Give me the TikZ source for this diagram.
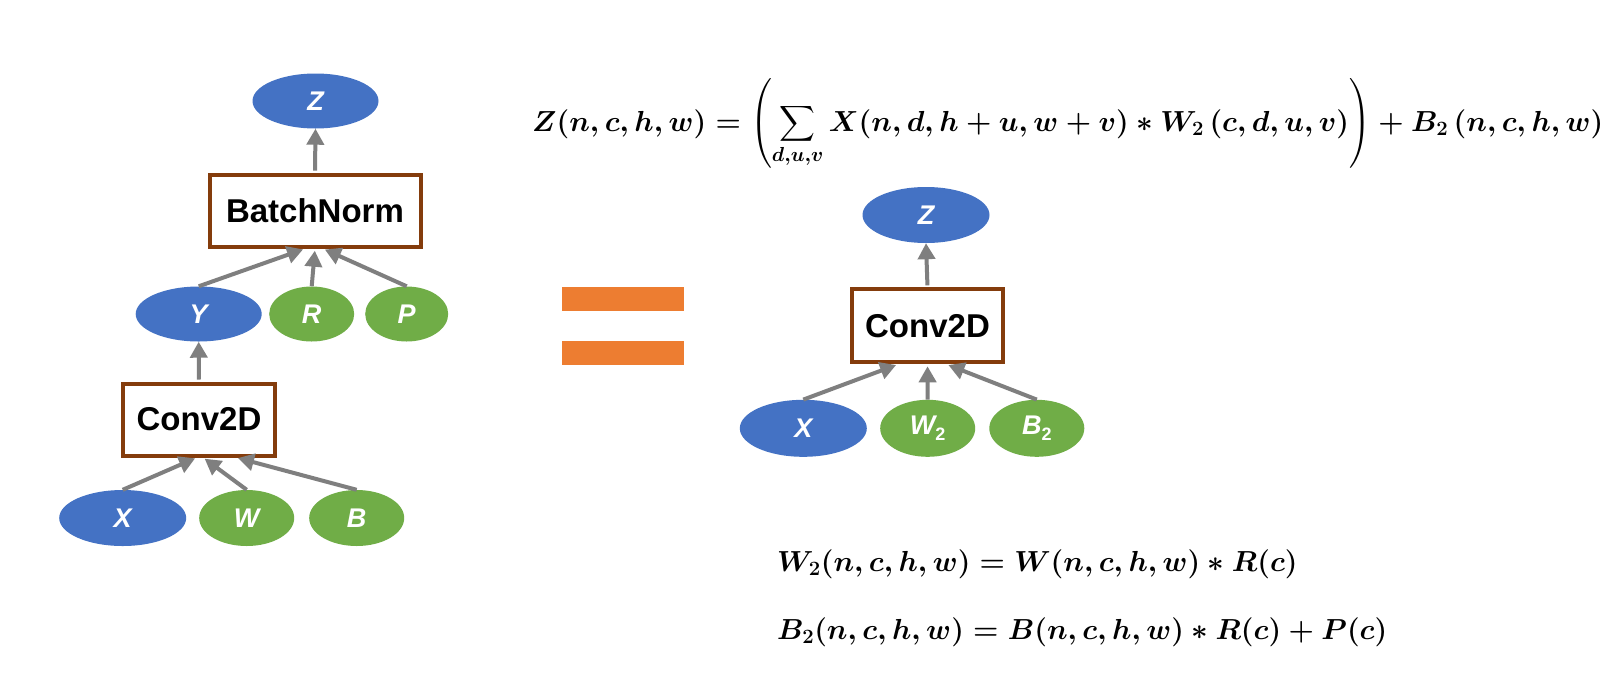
\RequirePackage{fix-cm}
\documentclass[tikz,border=0pt]{standalone}
\usepackage[no-math]{fontspec}
\usepackage{amsmath}
\usepackage{graphicx}
\newfontfamily\arialf{Liberation Sans}
\usetikzlibrary{shapes.geometric,arrows.meta,calc}
\definecolor{nblue}{HTML}{4472C4}
\definecolor{ngreen}{HTML}{70AD47}
\definecolor{norange}{HTML}{ED7D31}
\definecolor{nbrown}{HTML}{843C0C}
\definecolor{ngray}{HTML}{7F7F7F}
\newsavebox{\fzbox}
\newsavebox{\fwbox}
\newsavebox{\fbbox}
\begin{document}
\sbox{\fzbox}{\fontsize{29}{35}\selectfont\boldmath$Z(n,c,h,w)=\left(\displaystyle\sum\limits_{d,u,v}X(n,d,h+u,w+v)\ast W_2\,(c,d,u,v)\right)+B_2\,(n,c,h,w)$}%
\sbox{\fwbox}{\fontsize{29}{35}\selectfont\boldmath$W_2(n,c,h,w)=W(n,c,h,w)\ast R(c)$}%
\sbox{\fbbox}{\fontsize{29}{35}\selectfont\boldmath$B_2(n,c,h,w)=B(n,c,h,w)\ast R(c)+P(c)$}%
\begin{tikzpicture}[x=1pt,y=-1pt,
  tensor/.style={ellipse, inner sep=0pt, text=white, font=\arialf\bfseries\itshape\fontsize{27}{27}\selectfont},
  bluet/.style={tensor, fill=nblue, minimum width=126pt, minimum height=55pt},
  greent/.style={tensor, fill=ngreen, minimum height=55pt},
  opbox/.style={draw=nbrown, line width=4pt, fill=white, rectangle, inner sep=0pt, font=\arialf\bfseries\fontsize{33}{33}\selectfont},
  flow/.style={draw=ngray, line width=4pt, -{Triangle[length=16pt,width=17pt]}},
  intobox/.style={flow, shorten >=2pt},
  outofbox/.style={flow, shorten <=2pt},
  formula/.style={anchor=base west, inner sep=0pt},
  eqbar/.style={fill=norange}
]
\useasboundingbox[fill=white] (0,0) rectangle (1600,694);

% ---------- left graph ----------
\node[bluet] (zL) at (315.5,101) {Z};
\node[opbox, minimum width=211pt, minimum height=72pt] (bn) at (315,210.7) {BatchNorm};
\node[bluet] (yL) at (198.7,314) {Y};
\node[greent, minimum width=85pt] (rL) at (311.7,314) {R};
\node[greent, minimum width=83pt] (pL) at (406.7,314) {P};
\node[opbox, minimum width=152pt, minimum height=72pt] (cvL) at (199,419.5) {Conv2D};
\node[bluet, minimum width=127pt, minimum height=56pt] (xL) at (122.7,518) {X};
\node[greent, minimum width=95pt, minimum height=56pt] (wL) at (246.7,518) {W};
\node[greent, minimum width=95pt, minimum height=56pt] (bL) at (356.7,518) {B};

\draw[outofbox] (bn.north) -- (zL.south);
\draw[intobox] (yL.north) -- ([xshift=-10pt]bn.south);
\draw[intobox] (rL.north) -- ([xshift=0pt]bn.south);
\draw[intobox] (pL.north) -- ([xshift=8pt]bn.south);
\draw[outofbox] (cvL.north) -- (yL.south);
\draw[intobox] (xL.north) -- ([xshift=-2pt]cvL.south);
\draw[intobox] (wL.north) -- ([xshift=4pt]cvL.south);
\draw[intobox] (bL.north) -- ([xshift=37pt]cvL.south);

% ---------- equals sign ----------
\fill[eqbar] (562,287) rectangle (684,311);
\fill[eqbar] (562,341) rectangle (684,365);

% ---------- right graph ----------
\node[bluet, minimum width=127pt, minimum height=56pt] (zR) at (926,215) {Z};
\node[opbox, minimum width=151pt, minimum height=73pt] (cvR) at (927.5,325.8) {Conv2D};
\node[bluet, minimum width=127pt, minimum height=57pt] (xR) at (803.3,428.3) {X};
\node[greent, minimum width=95pt, minimum height=57pt] (w2R) at (927.7,428.3) {W{\fontsize{18}{18}\selectfont\upshape\raisebox{-6pt}{2}}};
\node[greent, minimum width=95pt, minimum height=57pt] (b2R) at (1036.8,428.3) {B{\fontsize{18}{18}\selectfont\upshape\raisebox{-6pt}{2}}};

\draw[outofbox] (cvR.north) -- (zR.south);
\draw[intobox] (xR.north) -- ([xshift=-29.5pt]cvR.south);
\draw[intobox] (w2R.north) -- ([xshift=0pt]cvR.south);
\draw[intobox] (b2R.north) -- ([xshift=19pt]cvR.south);

% ---------- formulas ----------
\node[formula] (ftop) at (532,131) {\usebox{\fzbox}};
\node[formula] (fw) at (777,571) {\usebox{\fwbox}};
\node[formula] (fb) at (777,639) {\usebox{\fbbox}};
\end{tikzpicture}
\end{document}
